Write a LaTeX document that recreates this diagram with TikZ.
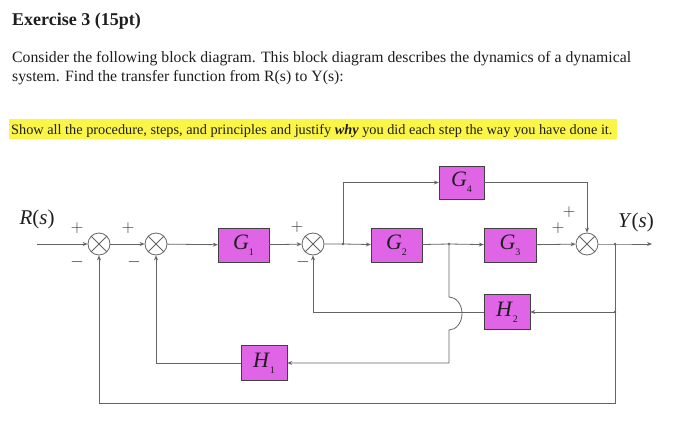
\documentclass[tikz,border=0pt]{standalone}
\usepackage{fontspec}
\setmainfont{Liberation Serif}
\usetikzlibrary{arrows.meta, positioning, calc}

\definecolor{blockfill}{RGB}{224,100,230}
\definecolor{wire}{RGB}{100,100,100}
\definecolor{marker}{RGB}{250,245,70}
\definecolor{ink}{RGB}{30,30,30}

\newcommand{\blk}[2]{\textit{#1}\raisebox{-6pt}{\fontsize{10}{10}\selectfont #2}}

\tikzset{
  block/.style={draw=black!75, fill=blockfill, minimum width=51pt, minimum height=34pt,
    inner sep=0pt, text=ink, font=\fontsize{22}{22}\selectfont},
  sumjunc/.style={circle, draw=wire, line width=0.8pt, minimum size=22pt, inner sep=0pt,
    path picture={\draw[wire, line width=0.8pt]
      (path picture bounding box.north west) -- (path picture bounding box.south east)
      (path picture bounding box.north east) -- (path picture bounding box.south west);}},
  wireline/.style={draw=wire, line width=0.8pt},
  sign/.style={text=black!80, inner sep=0pt, font=\fontsize{16}{16}\selectfont},
  prose/.style={anchor=base west, inner sep=0pt, text=ink},
}

\begin{document}
\begin{tikzpicture}[x=1pt, y=-1pt, >={Stealth[length=5pt, width=4pt]}]
  \useasboundingbox (0,0) rectangle (700,423);

  % exercise text
  \node[prose, font=\bfseries\fontsize{18}{18}\selectfont] (title) at (12,25) {Exercise 3 (15pt)};
  \node[prose, font=\fontsize{15.75}{15.75}\selectfont] (line1) at (12,62)
    {Consider the following block diagram. This block diagram describes the dynamics of a dynamical};
  \node[prose, font=\fontsize{15.75}{15.75}\selectfont] (line2) at (12,81)
    {system. Find the transfer function from R(s) to Y(s):};
  \fill[marker] (9,119) rectangle (617,139);
  \node[prose, font=\fontsize{14.3}{14.3}\selectfont] (note) at (11,134)
    {Show all the procedure, steps, and principles and justify \textbf{\textit{why}} you did each step the way you have done it.};

  % summing junctions
  \node[sumjunc] (s1) at (99,244) {};
  \node[sumjunc] (s2) at (156,244) {};
  \node[sumjunc] (s3) at (313,244) {};
  \node[sumjunc] (s4) at (587,244) {};

  % blocks
  \node[block] (g1) at (243.5,245) {\blk{G}{1}};
  \node[block] (g2) at (396.5,245) {\blk{G}{2}};
  \node[block, minimum width=52pt] (g3) at (510,245) {\blk{G}{3}};
  \node[block, minimum width=45pt, minimum height=33pt] (g4) at (461.5,182.5) {\blk{G}{4}};
  \node[block, minimum width=46pt, minimum height=35pt] (h1) at (264,363) {\blk{H}{1}};
  \node[block, minimum width=46pt, minimum height=35pt] (h2) at (507,312) {\blk{H}{2}};

  % signal labels and signs
  \node[text=ink, font=\fontsize{21}{21}\selectfont] (rlab) at (37,219) {\textit{R}(\textit{s})};
  \node[text=ink, font=\fontsize{21}{21}\selectfont] (ylab) at (636,222) {\textit{Y}(\textit{s})};
  \node[sign] (p1) at (77,228) {$+$};
  \node[sign] (m1) at (77,262) {$-$};
  \node[sign] (p2) at (128,228) {$+$};
  \node[sign] (m2) at (134,262) {$-$};
  \node[sign] (p3) at (297,227) {$+$};
  \node[sign] (m3) at (303,262) {$-$};
  \node[sign] (p4) at (569,212) {$+$};
  \node[sign] (p5) at (558,228) {$+$};

  % branch points
  \coordinate (in) at (37,244);
  \coordinate (b1) at (343,244);
  \coordinate (b2) at (449,244);
  \coordinate (b3) at (615,244);
  \coordinate (b4) at (615,312);
  \coordinate (out) at (652,244);
  \coordinate (c1) at (99,403);
  \foreach \p in {b1,b2,b3,b4}
    \fill[wire] (\p) circle (1.3pt);

  % forward path
  \draw[wireline, ->] (in) -- (s1);
  \draw[wireline, ->] (s1) -- (s2);
  \draw[wireline, ->] (s2) -- (g1);
  \draw[wireline, ->] (g1) -- (s3);
  \draw[wireline, ->] (s3) -- (b1) -- (g2);
  \draw[wireline, ->] (g2) -- (b2) -- (g3);
  \draw[wireline, ->] (g3) -- (s4);
  \draw[wireline, ->] (s4) -- (b3) -- (out);
  \draw[wireline, ->] (b1) |- (g4.west);
  \draw[wireline, ->] (g4.east) -| (s4.north);

  % feedback paths
  \draw[wireline, ->] (b4) -- (h2.east);
  \draw[wireline, ->] (h2.west) -| (s3.south);
  \draw[wireline, ->] (b2) -- ++(0,53)
    arc[start angle=-90, end angle=90, x radius=13, y radius=16.5] |- (h1.east);
  \draw[wireline, ->] (h1.west) -| (s2.south);
  \draw[wireline, ->] (b3) |- (c1) -- (s1.south);
\end{tikzpicture}
\end{document}
